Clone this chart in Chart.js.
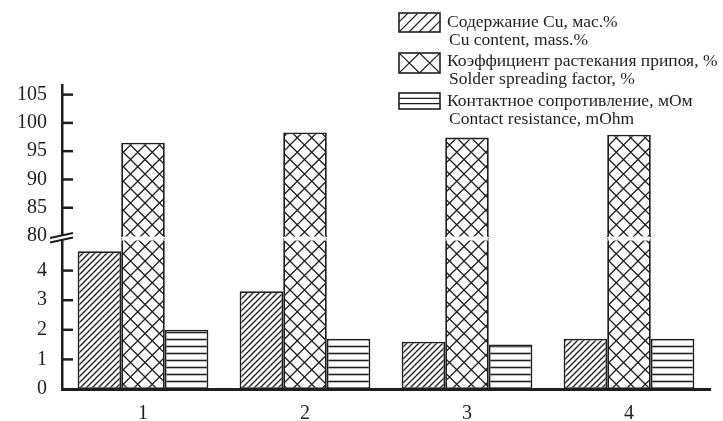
<!DOCTYPE html>
<html>
<head>
<meta charset="utf-8">
<script src="https://cdn.jsdelivr.net/npm/chart.js@4/dist/chart.umd.min.js"></script>
<style>
  html, body { margin: 0; padding: 0; background: #fff; }
  #wrap { width: 723px; height: 421px; }
</style>
</head>
<body>
<div id="wrap"><canvas id="c" width="723" height="421"></canvas></div>
<script>
// Samples on the x axis
const categories = ['1', '2', '3', '4'];

// Measured values per sample
const cuContent = [4.65, 3.3, 1.6, 1.7];           // Cu content, mass.%
const spreadFactor = [96.5, 98.3, 97.4, 97.9];     // solder spreading factor, %
const contactResistance = [2.0, 1.7, 1.5, 1.7];    // contact resistance, mOhm

// Y axis tick values (lower and upper part of the broken axis)
const yTicks = [0, 1, 2, 3, 4, 80, 85, 90, 95, 100, 105];

// Legend text (Russian / English)
const legendLines = [
  ['Содержание Cu, мас.%', 'Cu content, mass.%'],
  ['Коэффициент растекания припоя, %', 'Solder spreading factor, %'],
  ['Контактное сопротивление, мОм', 'Contact resistance, mOhm']
];

const INK = '#1e1e1e';
const FONT = '"Liberation Serif", "Times New Roman", serif';

// ---- broken y axis: [0..5] below, [80..top] above, small gap between ----
const LOW = [0, 5];
const HIGH = [80, 106.7];
const W_LOW = 148, W_GAP = 5, W_HIGH = 151;
const W_SUM = W_LOW + W_GAP + W_HIGH;

function valueToDecimal(v) {
  if (v <= LOW[1]) return (v - LOW[0]) / (LOW[1] - LOW[0]) * W_LOW / W_SUM;
  if (v < HIGH[0]) return (W_LOW + (v - LOW[1]) / (HIGH[0] - LOW[1]) * W_GAP) / W_SUM;
  return (W_LOW + W_GAP + (v - HIGH[0]) / (HIGH[1] - HIGH[0]) * W_HIGH) / W_SUM;
}
function decimalToValue(d) {
  const p = d * W_SUM;
  if (p <= W_LOW) return LOW[0] + p / W_LOW * (LOW[1] - LOW[0]);
  if (p < W_LOW + W_GAP) return LOW[1] + (p - W_LOW) / W_GAP * (HIGH[0] - LOW[1]);
  return HIGH[0] + (p - W_LOW - W_GAP) / W_HIGH * (HIGH[1] - HIGH[0]);
}

class BrokenLinearScale extends Chart.LinearScale {
  getPixelForValue(value) {
    return this.getPixelForDecimal(valueToDecimal(value));
  }
  getValueForPixel(pixel) {
    return decimalToValue(this.getDecimalForPixel(pixel));
  }
}
BrokenLinearScale.id = 'brokenLinear';
BrokenLinearScale.defaults = Chart.LinearScale.defaults;
Chart.register(BrokenLinearScale);

// ---- hatch patterns ----
function makePattern(w, h, draw) {
  const cv = document.createElement('canvas');
  cv.width = w; cv.height = h;
  const g = cv.getContext('2d');
  g.fillStyle = '#fff';
  g.fillRect(0, 0, w, h);
  g.strokeStyle = INK;
  draw(g, w, h);
  return g.createPattern(cv, 'repeat');
}
const diagPattern = makePattern(6, 6, (g, w, h) => {
  g.lineWidth = 1.3;
  g.beginPath();
  g.moveTo(-1, h + 1); g.lineTo(w + 1, -1);
  g.moveTo(-1, 1); g.lineTo(1, -1);
  g.moveTo(w - 1, h + 1); g.lineTo(w + 1, h - 1);
  g.stroke();
});
const crossPattern = makePattern(29, 29, (g, w, h) => {
  g.lineWidth = 1.3;
  const s = w / 2;
  g.beginPath();
  for (let k = -2; k <= 2; k++) {
    g.moveTo(k * s - 1, -1); g.lineTo(k * s + w + 1, h + 1);
    g.moveTo(k * s - 1, h + 1); g.lineTo(k * s + w + 1, -1);
  }
  g.stroke();
});
const hlinePattern = makePattern(8, 7, (g, w, h) => {
  g.lineWidth = 1.6;
  g.beginPath();
  g.moveTo(0, 3.5); g.lineTo(w, 3.5);
  g.stroke();
});

// ---- plugin: inward ticks, axis break, gap in tall bars ----
const breakPlugin = {
  id: 'axisBreak',
  afterDatasetsDraw(chart) {
    const { ctx, chartArea, scales } = chart;
    const y = scales.y;
    const yTop = y.getPixelForValue(HIGH[0]);
    const yBot = y.getPixelForValue(LOW[1]);
    ctx.save();
    ctx.fillStyle = '#fff';
    ctx.fillRect(chartArea.left + 2, yTop + 0.5, chartArea.right - chartArea.left, yBot - yTop - 1);
    // dotted edges of the tall bars across the gap
    ctx.strokeStyle = INK;
    ctx.lineWidth = 1.2;
    ctx.setLineDash([1, 1.5]);
    chart.getDatasetMeta(1).data.forEach(bar => {
      const half = bar.width / 2;
      ctx.beginPath();
      ctx.moveTo(bar.x - half + 0.5, yTop); ctx.lineTo(bar.x - half + 0.5, yBot);
      ctx.moveTo(bar.x + half - 0.5, yTop); ctx.lineTo(bar.x + half - 0.5, yBot);
      ctx.stroke();
    });
    ctx.restore();
  },
  afterDraw(chart) {
    const { ctx, chartArea, scales } = chart;
    const y = scales.y;
    const x0 = chartArea.left;
    ctx.save();
    ctx.strokeStyle = INK;
    ctx.lineWidth = 2.5;
    y.ticks.forEach(t => {
      if (t.value === 0 || t.value === HIGH[0]) return;
      const py = y.getPixelForValue(t.value);
      ctx.beginPath();
      ctx.moveTo(x0, py); ctx.lineTo(x0 + 11, py);
      ctx.stroke();
    });
    // break marks on the axis
    const yb = (y.getPixelForValue(HIGH[0]) + y.getPixelForValue(LOW[1])) / 2;
    ctx.fillStyle = '#fff';
    ctx.lineWidth = 2;
    ctx.beginPath();
    ctx.moveTo(x0 - 12, yb - 0.5); ctx.lineTo(x0 + 11, yb - 5.5);
    ctx.lineTo(x0 + 11, yb - 1); ctx.lineTo(x0 - 12, yb + 4);
    ctx.closePath();
    ctx.fill();
    ctx.beginPath();
    ctx.moveTo(x0 - 12, yb - 0.5); ctx.lineTo(x0 + 11, yb - 5.5);
    ctx.moveTo(x0 - 12, yb + 4); ctx.lineTo(x0 + 11, yb - 1);
    ctx.stroke();
    ctx.restore();
  }
};

// ---- plugin: two-line legend with hatched swatches ----
const legendPlugin = {
  id: 'hatchLegend',
  afterDraw(chart) {
    const { ctx } = chart;
    const boxes = [
      { x: 399, y: 13, w: 41, h: 19, lines: [22, 40] },
      { x: 399, y: 53, w: 41, h: 20, lines: [61, 79.5] },
      { x: 399, y: 93, w: 41, h: 16, lines: [101, 119.5] }
    ];
    ctx.save();
    boxes.forEach((b, i) => {
      ctx.fillStyle = '#fff';
      ctx.fillRect(b.x, b.y, b.w, b.h);
      ctx.save();
      ctx.beginPath();
      ctx.rect(b.x, b.y, b.w, b.h);
      ctx.clip();
      ctx.strokeStyle = INK;
      ctx.lineWidth = 1.2;
      ctx.beginPath();
      if (i === 0) {
        for (let k = -2; k < 6; k++) {
          const sx = b.x + k * 10;
          ctx.moveTo(sx, b.y + b.h); ctx.lineTo(sx + b.h, b.y);
        }
      } else if (i === 1) {
        const s = b.w / 2;
        for (let k = 0; k < 2; k++) {
          ctx.moveTo(b.x + k * s, b.y); ctx.lineTo(b.x + (k + 1) * s, b.y + b.h);
          ctx.moveTo(b.x + k * s, b.y + b.h); ctx.lineTo(b.x + (k + 1) * s, b.y);
        }
      } else {
        ctx.moveTo(b.x, b.y + b.h / 3); ctx.lineTo(b.x + b.w, b.y + b.h / 3);
        ctx.moveTo(b.x, b.y + 2 * b.h / 3); ctx.lineTo(b.x + b.w, b.y + 2 * b.h / 3);
      }
      ctx.stroke();
      ctx.restore();
      ctx.strokeStyle = INK;
      ctx.lineWidth = 1.6;
      ctx.strokeRect(b.x, b.y, b.w, b.h);

      ctx.fillStyle = INK;
      ctx.font = '17.5px ' + FONT;
      ctx.textBaseline = 'middle';
      ctx.textAlign = 'left';
      const label = chart.data.datasets[i].label;
      ctx.fillText(label[0], 447, b.lines[0]);
      ctx.fillText(label[1], 449, b.lines[1]);
    });
    ctx.restore();
  }
};

const chart = new Chart(document.getElementById('c'), {
  type: 'bar',
  data: {
    labels: categories,
    datasets: [
      { label: legendLines[0], data: cuContent, backgroundColor: diagPattern },
      { label: legendLines[1], data: spreadFactor, backgroundColor: crossPattern },
      { label: legendLines[2], data: contactResistance, backgroundColor: hlinePattern }
    ]
  },
  options: {
    responsive: false,
    devicePixelRatio: 1,
    animation: false,
    layout: { padding: { top: 85, right: 13, left: 0, bottom: 0 } },
    datasets: {
      bar: {
        categoryPercentage: 0.807,
        barPercentage: 1.0,
        borderColor: INK,
        borderWidth: 1.8,
        borderSkipped: false
      }
    },
    plugins: {
      legend: { display: false },
      tooltip: { enabled: false }
    },
    scales: {
      x: {
        type: 'category',
        grid: { display: false, drawTicks: false },
        border: { display: true, color: INK, width: 3 },
        ticks: { color: INK, font: { family: FONT, size: 20 }, padding: 13 },
        afterFit(s) { s.height = 32; }
      },
      y: {
        type: 'brokenLinear',
        min: LOW[0],
        max: HIGH[1],
        grid: { display: false, drawTicks: false },
        border: { display: true, color: INK, width: 2.5 },
        afterBuildTicks(s) { s.ticks = yTicks.map(v => ({ value: v })); },
        ticks: {
          color: INK,
          font: { family: FONT, size: 20 },
          padding: 15,
          callback: v => String(v)
        },
        afterFit(s) { s.width = 62; }
      }
    }
  },
  plugins: [breakPlugin, legendPlugin]
});
</script>
</body>
</html>
